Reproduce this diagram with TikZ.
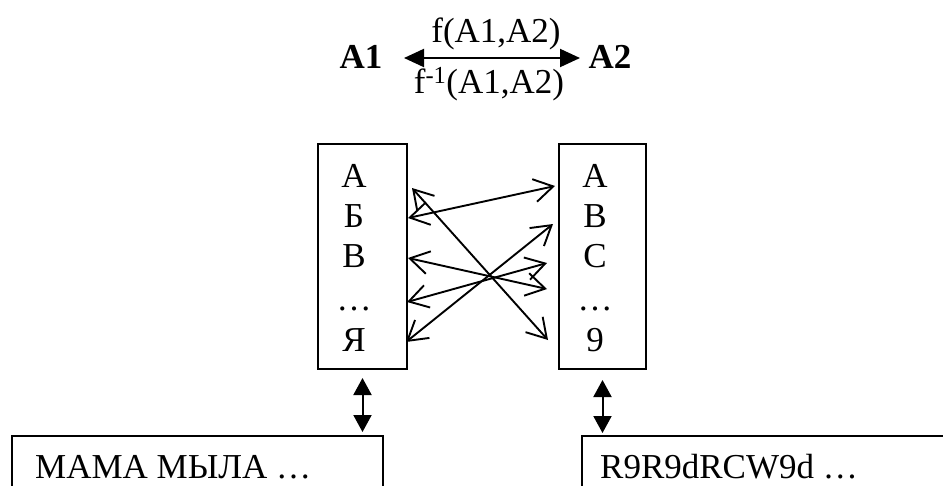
\documentclass[tikz,border=0pt]{standalone}
\usepackage{fontspec}
\setmainfont{Liberation Serif}
\usetikzlibrary{arrows.meta}
\begin{document}
\begin{tikzpicture}[x=1pt,y=-1pt,
  txt/.style={inner sep=0pt, anchor=base, font=\fontsize{35}{41}\selectfont},
  box/.style={draw, line width=2pt, inner sep=0pt},
  cross/.style={line width=1.9pt,
    {Straight Barb[length=19pt,width=23pt,line width=1.9pt]}-{Straight Barb[length=19pt,width=23pt,line width=1.9pt]}},
  dbl/.style={line width=2pt,
    {Triangle[length=17pt,width=18pt]}-{Triangle[length=17pt,width=18pt]}}]
\useasboundingbox (0,0) rectangle (943,485);
\clip (0,0) rectangle (943,485);

% top relation
\node[txt, font=\fontsize{35}{41}\selectfont\bfseries] (A1) at (361,68) {A1};
\node[txt, font=\fontsize{35}{41}\selectfont\bfseries] (A2) at (610,68) {A2};
\coordinate (tl) at (404,58);
\coordinate (tr) at (580,58);
\draw[dbl, {Triangle[length=20pt,width=18pt]}-{Triangle[length=20pt,width=18pt]}] (tl) -- (tr);
\node[txt] (f) at (496,42) {f(A1,A2)};
\node[txt] (fi) at (489,93) {f\textsuperscript{-1}(A1,A2)};

% alphabet boxes
\node[box, minimum width=89pt, minimum height=225pt, anchor=north west] (L) at (317,143) {};
\node[box, minimum width=87pt, minimum height=225pt, anchor=north west] (R) at (558,143) {};

\node[txt] (l1) at (354,187) {А};
\node[txt] (l2) at (354,227) {Б};
\node[txt] (l3) at (354,267) {В};
\node[txt] (l4) at (354,310) {…};
\node[txt] (l5) at (354,351) {Я};

\node[txt] (r1) at (595,187) {A};
\node[txt] (r2) at (595,227) {B};
\node[txt] (r3) at (595,267) {C};
\node[txt] (r4) at (595,310) {…};
\node[txt] (r5) at (595,351) {9};

% crossing mappings
\coordinate (a1) at (408,218); \coordinate (b1) at (555,186);
\coordinate (a2) at (412,188); \coordinate (b2) at (548,340);
\coordinate (a3) at (408,258); \coordinate (b3) at (547,289);
\coordinate (a4) at (407,302); \coordinate (b4) at (547,263);
\coordinate (a5) at (406,342); \coordinate (b5) at (553,224);
\draw[cross] (a1) -- (b1);
\draw[cross] (a2) -- (b2);
\draw[cross] (a3) -- (b3);
\draw[cross] (a4) -- (b4);
\draw[cross] (a5) -- (b5);

% text boxes
\node[box, minimum width=371pt, minimum height=120pt, anchor=north west] (BL) at (11,435) {};
\node[box, minimum width=400pt, minimum height=120pt, anchor=north west] (BR) at (581,435) {};
\node[txt, anchor=base west] (tl1) at (35,478) {МАМА МЫЛА …};
\node[txt, anchor=base west] (tr1) at (600,478) {R9R9dRCW9d …};

\draw[dbl, shorten <=8pt, shorten >=3pt] (L.south) -- (L.south |- BL.north);
\draw[dbl, shorten <=10pt, shorten >=2pt] (R.south) -- (R.south |- BR.north);
\end{tikzpicture}
\end{document}
